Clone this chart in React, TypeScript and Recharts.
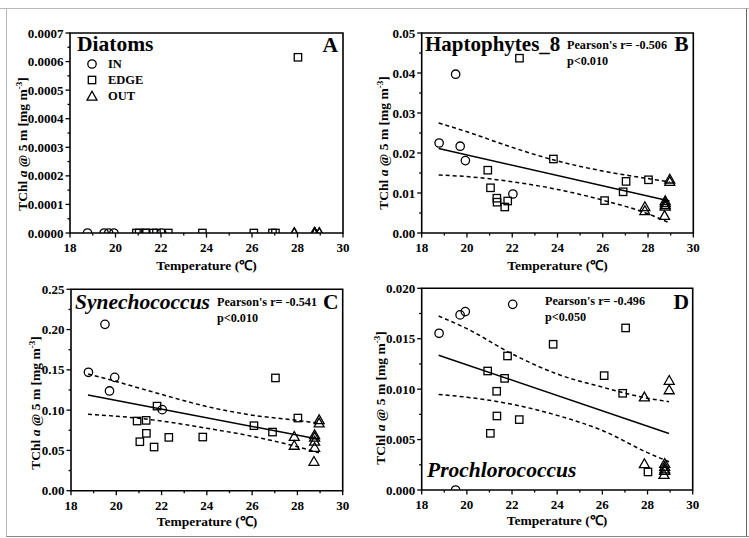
import React from 'react';
import { ComposedChart, Scatter, Line, XAxis, YAxis, ReferenceArea } from 'recharts';

const FONT = "'Liberation Serif', 'Times New Roman', serif";

// Temperatures (℃) of the stations, shared by all panels
const tempIN = [18.77, 19.5, 19.7, 19.93, 22.03];
const tempEDGE = [20.92, 21.04, 21.32, 21.33, 21.67, 21.8, 22.32, 23.82, 26.08, 26.9, 27.03, 28.02];
const tempOUT = [27.86, 27.86, 28.76, 28.76, 28.76, 28.76, 28.73, 28.96, 28.96];

// A: Diatoms
const diatomsIN = [0, 0, 0, 0, 0];
const diatomsEDGE = [0, 0, 0, 0, 0, 0, 0, 0, 0, 0, 0, 0.000615];
const diatomsOUT = [0, 0, 0, 0, 0, 0, 0, 0, 0];

// B: Haptophytes_8
const haptoIN = [0.0225, 0.0397, 0.0217, 0.0181, 0.00975];
const haptoEDGE = [0.0157, 0.0113, 0.0087, 0.0077, 0.0065, 0.008, 0.0437, 0.0185, 0.0081, 0.0103, 0.0129, 0.0133];
const haptoOUT = [0.0065, 0.0055, 0.008, 0.0075, 0.007, 0.0066, 0.0043, 0.0134, 0.0128];

// C: Synechococcus
const synIN = [0.147, 0.2065, 0.1238, 0.1407, 0.1006];
const synEDGE = [0.0865, 0.0608, 0.0873, 0.0712, 0.0542, 0.105, 0.0662, 0.0666, 0.0807, 0.0728, 0.14, 0.0902];
const synOUT = [0.067, 0.0559, 0.069, 0.066, 0.061, 0.0534, 0.036, 0.0877, 0.0836];

// D: Prochlorococcus
const proIN = [0.01554, 0, 0.01736, 0.01769, 0.01841];
const proEDGE = [0.0118, 0.00562, 0.00979, 0.00734, 0.01107, 0.01329, 0.00698, 0.01445, 0.01134, 0.00959, 0.01607, 0.00179];
const proOUT = [0.00919, 0.00258, 0.0026, 0.0023, 0.00205, 0.0019, 0.0015, 0.01084, 0.0099];

// Regression lines and 95% bands
const fitX = [18.75, 28.95];
const haptoFit = [0.0211, 0.008];
const synFit = [0.1189, 0.0638];
const proFit = [0.01336, 0.0056];

const bandX = [18.75, 20, 22, 24, 26, 28, 28.95];
const haptoUpper = [0.0275, 0.0253, 0.0214, 0.018, 0.0155, 0.0136, 0.0128];
const haptoLower = [0.0145, 0.0141, 0.0128, 0.0109, 0.0082, 0.0048, 0.0025];
const synUpper = [0.145, 0.1355, 0.1195, 0.1045, 0.0938, 0.0873, 0.0836];
const synLower = [0.0948, 0.0925, 0.0865, 0.0775, 0.0675, 0.0545, 0.047];
const proUpper = [0.01725, 0.016, 0.0135, 0.0115, 0.0102, 0.0091, 0.00876];
const proLower = [0.00947, 0.0092, 0.0085, 0.0074, 0.0059, 0.0037, 0.0028];

// Axis ticks
const xTicks = [18, 19, 20, 21, 22, 23, 24, 25, 26, 27, 28, 29, 30];
const yTicksA = [0, 0.00005, 0.0001, 0.00015, 0.0002, 0.00025, 0.0003, 0.00035, 0.0004, 0.00045, 0.0005, 0.00055, 0.0006, 0.00065, 0.0007];
const yTicksB = [0, 0.005, 0.01, 0.015, 0.02, 0.025, 0.03, 0.035, 0.04, 0.045, 0.05];
const yTicksC = [0, 0.025, 0.05, 0.075, 0.1, 0.125, 0.15, 0.175, 0.2, 0.225, 0.25];
const yTicksD = [0, 0.0025, 0.005, 0.0075, 0.01, 0.0125, 0.015, 0.0175, 0.02];

const zip = (xs: number[], ys: number[]) => xs.map((x, i) => ({ x, y: ys[i] }));

const SW = 1.3;
const CircleShape = (p: any) => <circle cx={p.cx} cy={p.cy} r={4.2} fill="none" stroke="#000" strokeWidth={SW} />;
const SquareShape = (p: any) => <rect x={p.cx - 3.7} y={p.cy - 3.7} width={7.4} height={7.4} fill="none" stroke="#000" strokeWidth={SW} />;
const TriShape = (p: any) => (
  <path d={`M${p.cx},${p.cy - 5.2} L${p.cx + 5},${p.cy + 3.6} L${p.cx - 5},${p.cy + 3.6} Z`} fill="none" stroke="#000" strokeWidth={SW} />
);

const XTick = (props: any) => {
  const { x, y, payload } = props;
  const major = payload.value % 2 === 0;
  return (
    <g>
      <line x1={x} y1={y} x2={x} y2={y + (major ? 4.5 : 2.5)} stroke="#000" strokeWidth={1.3} />
      {major && (
        <text x={x} y={y + 19} textAnchor="middle" fontFamily={FONT} fontWeight="bold" fontSize={13} fill="#000">
          {payload.value}
        </text>
      )}
    </g>
  );
};

const makeYTick = (step: number, dec: number) => (props: any) => {
  const { x, y, payload } = props;
  const major = Math.round(payload.value / step) % 2 === 0;
  return (
    <g>
      <line x1={x} y1={y} x2={x - (major ? 4.5 : 2.5)} y2={y} stroke="#000" strokeWidth={1.3} />
      {major && (
        <text x={x - 6.5} y={y + 4.5} textAnchor="end" fontFamily={FONT} fontWeight="bold" fontSize={13} fill="#000">
          {payload.value.toFixed(dec)}
        </text>
      )}
    </g>
  );
};

type PanelProps = {
  left: number; top: number; width: number; height: number;
  margin: { top: number; right: number; left: number; bottom: number };
  yWidth: number; yMax: number; yTicks: number[]; yStep: number; yDec: number;
  inV: number[]; edgeV: number[]; outV: number[];
  fit?: number[]; upper?: number[]; lower?: number[];
};

const Panel = (p: PanelProps) => (
  <div style={{ position: 'absolute', left: p.left, top: p.top, width: p.width, height: p.height }}>
    <ComposedChart width={p.width} height={p.height} margin={p.margin}>
      <XAxis
        type="number" dataKey="x" domain={[18, 30]} ticks={xTicks} interval={0}
        allowDataOverflow axisLine={false} tickLine={false} tickSize={0} tickMargin={0}
        height={40} tick={<XTick />}
      />
      <YAxis
        type="number" dataKey="y" domain={[0, p.yMax]} ticks={p.yTicks} interval={0}
        allowDataOverflow axisLine={false} tickLine={false} tickSize={0} tickMargin={0}
        width={p.yWidth} tick={makeYTick(p.yStep, p.yDec)}
      />
      <ReferenceArea x1={18} x2={30} y1={0} y2={p.yMax} fill="#fff" fillOpacity={0} stroke="#000" strokeWidth={1.6} ifOverflow="visible" />
      {p.upper && (
        <Line data={zip(bandX, p.upper)} dataKey="y" type="monotone" stroke="#000" strokeWidth={1.5} strokeDasharray="4 3" dot={false} isAnimationActive={false} />
      )}
      {p.lower && (
        <Line data={zip(bandX, p.lower)} dataKey="y" type="monotone" stroke="#000" strokeWidth={1.5} strokeDasharray="4 3" dot={false} isAnimationActive={false} />
      )}
      {p.fit && (
        <Line data={zip(fitX, p.fit)} dataKey="y" type="linear" stroke="#000" strokeWidth={1.5} dot={false} isAnimationActive={false} />
      )}
      <Scatter name="IN" data={zip(tempIN, p.inV)} shape={CircleShape} isAnimationActive={false} />
      <Scatter name="EDGE" data={zip(tempEDGE, p.edgeV)} shape={SquareShape} isAnimationActive={false} />
      <Scatter name="OUT" data={zip(tempOUT, p.outV)} shape={TriShape} isAnimationActive={false} />
    </ComposedChart>
  </div>
);

const T = (props: any) => <text fontFamily={FONT} fontWeight="bold" fill="#000" {...props} />;

const YTitle = ({ x, y }: { x: number; y: number }) => (
  <text transform={`rotate(-90 ${x} ${y})`} x={x} y={y} textAnchor="middle" fontFamily={FONT} fontWeight="bold" fontSize={13.5} fill="#000">
    TChl <tspan fontStyle="italic">a</tspan> @ 5 m [mg m<tspan dy={-5} fontSize={9}>-3</tspan><tspan dy={5}>]</tspan>
  </text>
);

const XTitle = ({ x, y }: { x: number; y: number }) => (
  <T x={x} y={y} textAnchor="middle" fontSize={13.5}>Temperature (℃)</T>
);

export default function App() {
  return (
    <div style={{ position: 'absolute', left: 0, top: 0, width: 749, height: 538, background: '#fff', overflow: 'hidden' }}>
      <Panel left={0} top={0} width={374} height={275} margin={{ top: 33, right: 31, left: 10, bottom: 2 }}
        yWidth={60} yMax={0.0007} yTicks={yTicksA} yStep={0.00005} yDec={4}
        inV={diatomsIN} edgeV={diatomsEDGE} outV={diatomsOUT} />
      <Panel left={374} top={0} width={375} height={275} margin={{ top: 33, right: 55.7, left: 7.7, bottom: 2 }}
        yWidth={40} yMax={0.05} yTicks={yTicksB} yStep={0.005} yDec={2}
        inV={haptoIN} edgeV={haptoEDGE} outV={haptoOUT} fit={haptoFit} upper={haptoUpper} lower={haptoLower} />
      <Panel left={0} top={262} width={374} height={275} margin={{ top: 27.3, right: 31.3, left: 31, bottom: 6.3 }}
        yWidth={40} yMax={0.25} yTicks={yTicksC} yStep={0.025} yDec={2}
        inV={synIN} edgeV={synEDGE} outV={synOUT} fit={synFit} upper={synUpper} lower={synLower} />
      <Panel left={374} top={262} width={375} height={275} margin={{ top: 26.3, right: 56.3, left: 7.7, bottom: 7 }}
        yWidth={40} yMax={0.02} yTicks={yTicksD} yStep={0.0025} yDec={3}
        inV={proIN} edgeV={proEDGE} outV={proOUT} fit={proFit} upper={proUpper} lower={proLower} />

      <svg width={749} height={538} style={{ position: 'absolute', left: 0, top: 0, pointerEvents: 'none' }}>
        <line x1={0} y1={8.5} x2={749} y2={8.5} stroke="#b8b8b8" strokeWidth={1} />
        <line x1={6.5} y1={8.5} x2={6.5} y2={537} stroke="#b8b8b8" strokeWidth={1} />
        <line x1={746.5} y1={8.5} x2={746.5} y2={537} stroke="#666" strokeWidth={1} />
        <line x1={6.5} y1={536.5} x2={749} y2={536.5} stroke="#888" strokeWidth={1} />

        {/* Panel A */}
        <T x={77} y={51} fontSize={21.5}>Diatoms</T>
        <T x={338} y={51.5} fontSize={21.5} textAnchor="end">A</T>
        <CircleShape cx={92} cy={64} />
        <SquareShape cx={92} cy={80} />
        <TriShape cx={92} cy={96.5} />
        <T x={108} y={68} fontSize={12.5}>IN</T>
        <T x={108} y={84} fontSize={12.5}>EDGE</T>
        <T x={108} y={100} fontSize={12.5}>OUT</T>
        <YTitle x={26.5} y={144} />
        <XTitle x={206.5} y={269.5} />

        {/* Panel B */}
        <T x={425} y={51} fontSize={21}>Haptophytes_8</T>
        <T x={567} y={48.5} fontSize={12.2}>Pearson's r= -0.506</T>
        <T x={567} y={65} fontSize={12.2}>p&lt;0.010</T>
        <T x={688.5} y={51} fontSize={21.5} textAnchor="end">B</T>
        <YTitle x={387.8} y={143} />
        <XTitle x={557.5} y={269.5} />

        {/* Panel C */}
        <T x={75} y={308.5} fontSize={21.5} fontStyle="italic">Synechococcus</T>
        <T x={217} y={306} fontSize={12.2}>Pearson's r= -0.541</T>
        <T x={217} y={322} fontSize={12.2}>p&lt;0.010</T>
        <T x={338.5} y={308.5} fontSize={21.5} textAnchor="end">C</T>
        <YTitle x={39.5} y={403} />
        <XTitle x={207} y={526} />

        {/* Panel D */}
        <T x={545} y={304.5} fontSize={12.2}>Pearson's r= -0.496</T>
        <T x={545} y={320.5} fontSize={12.2}>p&lt;0.050</T>
        <T x={689} y={308.5} fontSize={21.5} textAnchor="end">D</T>
        <T x={427} y={477} fontSize={21.5} fontStyle="italic">Prochlorococcus</T>
        <YTitle x={384.5} y={398} />
        <XTitle x={557} y={525} />
      </svg>
    </div>
  );
}
